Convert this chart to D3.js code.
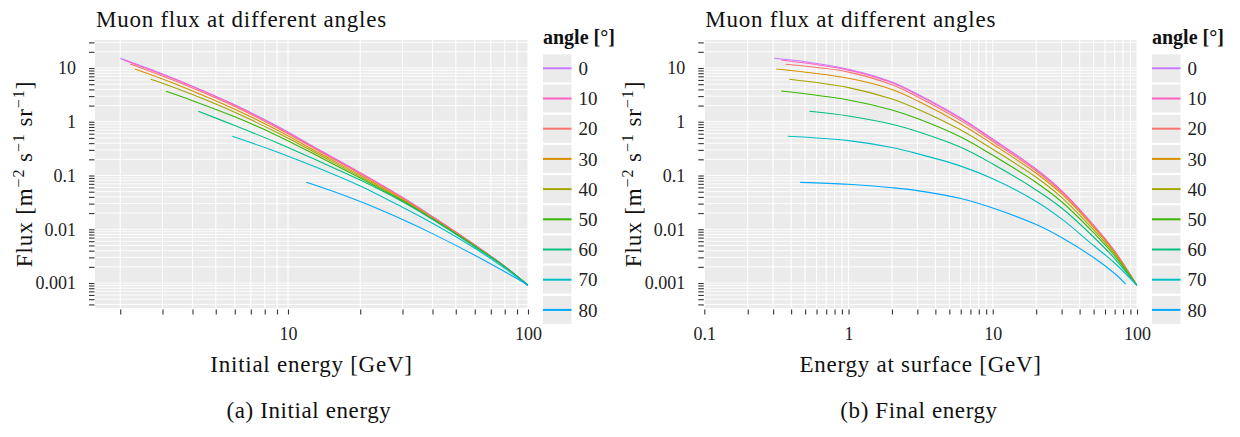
<!DOCTYPE html>
<html>
<head>
<meta charset="utf-8">
<script src="https://cdn.jsdelivr.net/npm/d3@7"></script>
<style>
  body { margin: 0; background: #ffffff; }
  svg { display: block; }
  text { font-family: "Liberation Serif", "DejaVu Serif", serif; }
</style>
</head>
<body>
<div id="vis"></div>
<script>
// zenith angles and their colours
const angles = [0, 10, 20, 30, 40, 50, 60, 70, 80];
const angleColors = ["#C77CFF", "#FF61C3", "#F8766D", "#D89000", "#A3A500", "#39B600", "#00BF7D", "#00BFC4", "#00A9FF"];

// (a) flux vs initial energy, one row per angle
const initialEnergy = [
  [2, 3, 4, 6, 9, 13.6, 20, 30, 40, 50, 60, 70, 80, 100],
  [2.07, 3, 4, 6, 9, 13.6, 20, 30, 40, 50, 60, 70, 80, 100],
  [2.2, 3, 4, 6, 9, 13.6, 20, 30, 40, 50, 60, 70, 80, 100],
  [2.3, 3, 4, 6, 9, 13.6, 20, 30, 40, 50, 60, 70, 80, 100],
  [2.68, 3, 4, 6, 9, 13.6, 20, 30, 40, 50, 60, 70, 80, 100],
  [3.1, 4, 6, 9, 13.6, 20, 30, 40, 50, 60, 70, 80, 100],
  [4.23, 6, 9, 13.6, 20, 30, 40, 60, 80, 100],
  [5.86, 9, 13.6, 20, 30, 40, 60, 80, 100],
  [11.9, 13.6, 20, 30, 40, 60, 80, 100]
];
const initialFlux = [
  [15.1, 7.73, 4.60, 2.07, 0.832, 0.295, 0.1127, 0.0393, 0.0173, 0.00895, 0.00514, 0.00316, 0.00205, 0.0009],
  [14.1, 7.57, 4.51, 2.02, 0.811, 0.289, 0.111, 0.0387, 0.01714, 0.00889, 0.00512, 0.00316, 0.00204, 0.0009],
  [11.9, 7.10, 4.25, 1.92, 0.773, 0.277, 0.1072, 0.0378, 0.0168, 0.00877, 0.00506, 0.00313, 0.00203, 0.0009],
  [9.57, 6.24, 3.75, 1.714, 0.701, 0.256, 0.1009, 0.0361, 0.0162, 0.00855, 0.00497, 0.0031, 0.00202, 0.0009],
  [6.17, 5.21, 3.20, 1.50, 0.630, 0.238, 0.0953, 0.0347, 0.01574, 0.00836, 0.00491, 0.00307, 0.00201, 0.0009],
  [3.68, 2.47, 1.239, 0.558, 0.219, 0.0897, 0.0338, 0.01549, 0.00826, 0.00486, 0.00305, 0.00201, 0.00093],
  [1.563, 0.851, 0.407, 0.180, 0.0824, 0.0326, 0.0153, 0.00473, 0.00201, 0.0009],
  [0.536, 0.275, 0.1334, 0.0638, 0.0256, 0.01291, 0.00443, 0.001875, 0.0009],
  [0.0747, 0.0616, 0.0327, 0.01518, 0.0083, 0.00329, 0.001623, 0.00092]
];

// (b) flux vs energy at surface
const surfaceEnergy = [
  [0.305, 0.5, 1, 2, 3, 6, 10, 20, 30, 50, 70, 100],
  [0.341, 1, 2, 3, 6, 10, 20, 30, 50, 70, 100],
  [0.367, 1, 2, 3, 6, 10, 20, 30, 50, 70, 100],
  [0.315, 1, 2, 3, 6, 10, 20, 30, 50, 70, 100],
  [0.389, 1, 2, 3, 6, 10, 20, 30, 50, 70, 100],
  [0.341, 1, 2, 3, 6, 10, 20, 30, 50, 70, 100],
  [0.536, 1, 2, 3, 6, 10, 20, 30, 50, 70, 100],
  [0.379, 1, 2, 3, 6, 10, 20, 30, 50, 70, 100],
  [0.462, 1, 2, 3, 6, 10, 20, 30, 50, 70, 83.5]
];
const surfaceFlux = [
  [15.15, 13.1, 9.46, 5.49, 3.28, 1.174, 0.4776, 0.1321, 0.05258, 0.0120, 0.003937, 0.000898],
  [14.09, 9.14, 5.31, 3.17, 1.14, 0.4635, 0.1288, 0.05147, 0.01179, 0.003904, 0.000898],
  [11.72, 8.39, 4.87, 2.92, 1.05, 0.4309, 0.1213, 0.04891, 0.01139, 0.003822, 0.000898],
  [9.58, 6.43, 3.98, 2.45, 0.908, 0.3823, 0.1104, 0.04546, 0.01082, 0.003709, 0.000898],
  [6.16, 4.32, 2.65, 1.727, 0.7024, 0.3073, 0.0926, 0.03914, 0.00973, 0.003463, 0.000898],
  [3.73, 2.54, 1.654, 1.149, 0.5203, 0.2376, 0.07411, 0.03256, 0.00863, 0.003206, 0.000898],
  [1.564, 1.279, 0.8966, 0.6585, 0.3346, 0.1637, 0.05373, 0.02485, 0.00718, 0.002856, 0.000898],
  [0.5362, 0.4459, 0.3318, 0.2555, 0.1496, 0.08682, 0.03297, 0.01558, 0.004984, 0.002355, 0.000898],
  [0.07469, 0.0686, 0.05929, 0.05237, 0.03734, 0.02485, 0.01226, 0.007025, 0.002981, 0.001502, 0.000958]
];

// axis labels
const yMajor = [0.001, 0.01, 0.1, 1, 10];
const yLabels = ["0.001", "0.01", "0.1", "1", "10"];
const xMajorInitial = [10, 100];
const xLabelsInitial = ["10", "100"];
const xMajorSurface = [0.1, 1, 10, 100];
const xLabelsSurface = ["0.1", "1", "10", "100"];

var W = 1240, H = 437;
var panelTop = 40, panelBottom = 308;
var yDomain = [0.000343, 33.2];

var svg = d3.select("#vis").append("svg")
    .attr("width", W)
    .attr("height", H);

// every 1..9 x 10^k inside [lo, hi]
function logTicks(lo, hi) {
  var out = [];
  for (var k = -5; k <= 3; k++) {
    for (var m = 1; m <= 9; m++) {
      var v = +(m * Math.pow(10, k)).toPrecision(6);
      if (v >= lo * 0.9999 && v <= hi * 1.0001) out.push(v);
    }
  }
  return out;
}

function drawPanel(p) {
  var g = svg.append("g");
  var x = d3.scaleLog().domain(p.xDomain).range([p.left, p.right]);
  var y = d3.scaleLog().domain(yDomain).range([panelBottom, panelTop]);
  var xTicks = logTicks(p.xDomain[0], p.xDomain[1]);
  var yTicks = logTicks(yDomain[0], yDomain[1]);

  g.append("rect")
    .attr("x", p.left).attr("y", panelTop)
    .attr("width", p.right - p.left).attr("height", panelBottom - panelTop)
    .attr("fill", "#EBEBEB");

  // grid
  g.append("g").selectAll("line").data(yTicks).enter().append("line")
    .attr("x1", p.left).attr("x2", p.right)
    .attr("y1", d => y(d)).attr("y2", d => y(d))
    .attr("stroke", "#ffffff")
    .attr("stroke-width", d => yMajor.includes(d) ? 1.2 : 0.9);
  g.append("g").selectAll("line").data(xTicks).enter().append("line")
    .attr("y1", panelTop).attr("y2", panelBottom)
    .attr("x1", d => x(d)).attr("x2", d => x(d))
    .attr("stroke", "#ffffff")
    .attr("stroke-width", 1.1);

  // curves
  var clipId = "clip" + p.id;
  svg.append("clipPath").attr("id", clipId).append("rect")
    .attr("x", p.left).attr("y", panelTop)
    .attr("width", p.right - p.left).attr("height", panelBottom - panelTop);

  var line = d3.line()
    .x(d => x(d[0]))
    .y(d => y(d[1]))
    .curve(d3.curveCatmullRom.alpha(0.5));

  var series = angles.map((a, i) => p.energy[i].map((e, j) => [e, p.flux[i][j]]));
  g.append("g").attr("clip-path", "url(#" + clipId + ")")
    .selectAll("path").data(series).enter().append("path")
    .attr("d", line)
    .attr("fill", "none")
    .attr("stroke", (d, i) => angleColors[i])
    .attr("stroke-width", 1.1);

  // axes
  var xAxis = g.append("g")
    .attr("transform", "translate(0," + (panelBottom + 1.5) + ")")
    .call(d3.axisBottom(x).tickValues(xTicks).tickSize(5).tickPadding(13)
      .tickFormat(d => { var k = p.xMajor.indexOf(d); return k >= 0 ? p.xLabels[k] : ""; }));
  var yAxis = g.append("g")
    .attr("transform", "translate(" + (p.left - 0.5) + ",0)")
    .call(d3.axisLeft(y).tickValues(yTicks).tickSize(5.5).tickPadding(13)
      .tickFormat(d => { var k = yMajor.indexOf(d); return k >= 0 ? yLabels[k] : ""; }));
  [xAxis, yAxis].forEach(ax => {
    ax.select(".domain").remove();
    ax.selectAll(".tick line").attr("stroke", "#333333").attr("stroke-width", 1.1);
    ax.selectAll(".tick text").attr("fill", "#222222")
      .style("font-size", "18px").style("font-family", "Liberation Serif, serif");
  });

  // titles
  g.append("text")
    .attr("x", p.left + 1).attr("y", 27)
    .style("font-size", "23px").style("letter-spacing", "0.75px").attr("fill", "#111")
    .text("Muon flux at different angles");

  g.append("text")
    .attr("x", (p.left + p.right) / 2).attr("y", 372)
    .attr("text-anchor", "middle")
    .style("font-size", "23px").style("letter-spacing", "0.75px").attr("fill", "#111")
    .text(p.xTitle);

  var yt = g.append("text")
    .attr("transform", "translate(" + p.yTitleX + "," + ((panelTop + panelBottom) / 2) + ") rotate(-90)")
    .attr("text-anchor", "middle")
    .style("font-size", "23px").style("letter-spacing", "0.9px").attr("fill", "#111");
  yt.append("tspan").text("Flux [m");
  yt.append("tspan").attr("dy", -8).style("font-size", "16px").text("\u22122");
  yt.append("tspan").attr("dy", 8).text(" s");
  yt.append("tspan").attr("dy", -8).style("font-size", "16px").text("\u22121");
  yt.append("tspan").attr("dy", 8).text(" sr");
  yt.append("tspan").attr("dy", -8).style("font-size", "16px").text("\u22121");
  yt.append("tspan").attr("dy", 8).text("]");

  // legend
  var lg = g.append("g").attr("transform", "translate(" + p.legendX + ",0)");
  lg.append("text")
    .attr("x", 0).attr("y", 44)
    .style("font-size", "20px").style("font-weight", "bold").attr("fill", "#111")
    .text("angle [\u00B0]");
  var rows = lg.selectAll("g.key").data(angles).enter().append("g")
    .attr("class", "key")
    .attr("transform", (d, i) => "translate(0," + (68.3 + i * 30.2) + ")");
  rows.append("rect")
    .attr("x", 0).attr("y", -14).attr("width", 28.5).attr("height", 28)
    .attr("fill", "#EBEBEB");
  rows.append("line")
    .attr("x1", 0).attr("x2", 28.5)
    .attr("stroke", (d, i) => angleColors[i])
    .attr("stroke-width", 2);
  rows.append("text")
    .attr("x", 35.5).attr("y", 0).attr("dy", "0.35em")
    .style("font-size", "19px").attr("fill", "#222")
    .text(d => d);

  // caption
  svg.append("text")
    .attr("x", p.captionX).attr("y", 418)
    .attr("text-anchor", "middle")
    .style("font-size", "23px").style("letter-spacing", "0.6px").attr("fill", "#111")
    .text(p.caption);
}

drawPanel({
  id: "a", left: 95, right: 528, xDomain: [1.57, 100],
  energy: initialEnergy, flux: initialFlux,
  xMajor: xMajorInitial, xLabels: xLabelsInitial,
  xTitle: "Initial energy [GeV]", yTitleX: 32, legendX: 543,
  caption: "(a) Initial energy", captionX: 309
});

drawPanel({
  id: "b", left: 704.3, right: 1137, xDomain: [0.1, 100],
  energy: surfaceEnergy, flux: surfaceFlux,
  xMajor: xMajorSurface, xLabels: xLabelsSurface,
  xTitle: "Energy at surface [GeV]", yTitleX: 641, legendX: 1152,
  caption: "(b) Final energy", captionX: 919
});
</script>
</body>
</html>
